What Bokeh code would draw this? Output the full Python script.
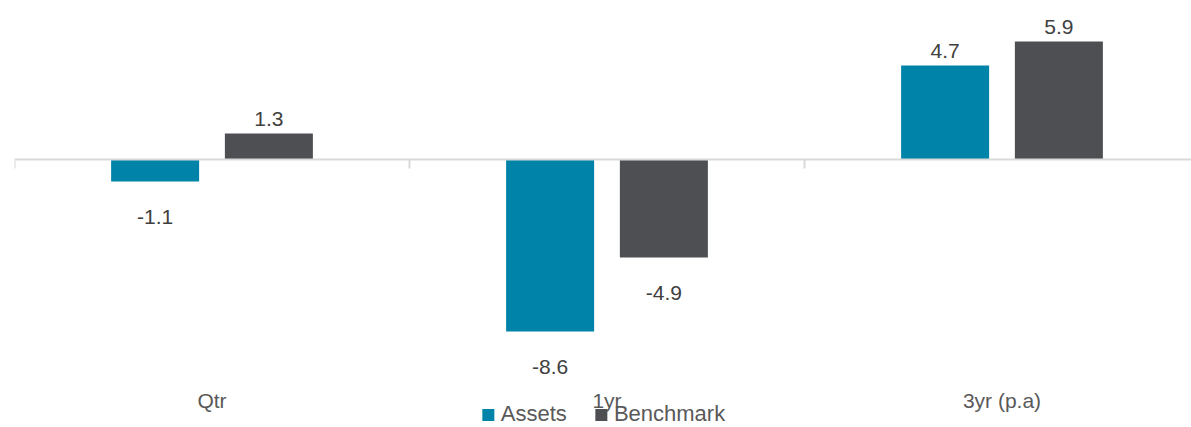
import numpy as np
from bokeh.plotting import figure
from bokeh.models import ColumnDataSource, Range1d, Span
from bokeh.core.properties import value
from bokeh.embed import file_html
from bokeh.resources import INLINE

# ---- data ----
categories = ["Qtr", "1yr", "3yr (p.a)"]
assets = [-1.1, -8.6, 4.7]
benchmark = [1.3, -4.9, 5.9]
series_names = ["Assets", "Benchmark"]
series_colors = ["#0083A9", "#4D4F53"]

FONT = value("Liberation Sans")
W, H = 1191, 427
BORDER_L = 14
PX_PER_CAT = 395.0
PX_PER_UNIT = 20.0
ZERO_PX = 159  # zero line from top of figure

frame_w = W - BORDER_L
x_end = frame_w / PX_PER_CAT
y_end = ZERO_PX / PX_PER_UNIT
y_start = -(H - ZERO_PX) / PX_PER_UNIT

p = figure(width=W, height=H, output_backend="svg", toolbar_location=None,
           x_range=Range1d(0, x_end), y_range=Range1d(y_start, y_end),
           x_axis_location=None, y_axis_location=None,
           min_border_left=BORDER_L, min_border_right=0,
           min_border_top=0, min_border_bottom=0)
p.outline_line_color = None
p.xgrid.visible = False
p.ygrid.visible = False
p.background_fill_color = "white"
p.border_fill_color = "white"

idx = np.arange(len(categories))
offset = 0.144
bar_w = 88 / PX_PER_CAT

for vals, name, color, off in zip([assets, benchmark], series_names, series_colors, [-offset, offset]):
    vals = np.array(vals)
    src = ColumnDataSource(dict(
        x=idx + 0.5 + off,
        top=vals,
        label=[f"{v:.1f}" for v in vals],
        yoff=np.where(vals >= 0, -15, 35.5),
    ))
    p.vbar(x="x", top="top", bottom=0, width=bar_w, source=src,
           fill_color=color, line_color=None, legend_label=name)
    p.text(x="x", y="top", text="label", source=src, y_offset="yoff",
           text_align="center", text_baseline="alphabetic",
           text_font=FONT, text_font_size=value("21px"), text_color="#404040")

# zero axis line and category boundary ticks
p.add_layout(Span(location=0, dimension="width", line_color="#D9D9D9", line_width=2))
bounds = np.arange(len(categories) + 1)
p.segment(x0=bounds, y0=np.zeros(len(bounds)), x1=bounds,
          y1=np.full(len(bounds), -9 / PX_PER_UNIT), line_color="#D9D9D9", line_width=2)

# category labels (placed below the plot area, relative to axis)
cat_src = ColumnDataSource(dict(x=idx + 0.5, y=np.zeros(len(idx)), text=categories))
p.text(x="x", y="y", text="text", source=cat_src, y_offset=241,
       text_align="center", text_baseline="alphabetic",
       text_font=FONT, text_font_size=value("21px"), text_color="#595959")

leg = p.legend[0]
leg.location = "bottom_center"
leg.orientation = "horizontal"
leg.background_fill_alpha = 0
leg.border_line_color = None
leg.margin = 0
leg.padding = 0
leg.spacing = 26
leg.glyph_width = 15
leg.glyph_height = 15
leg.label_standoff = 6
leg.label_text_font = "Liberation Sans"
leg.label_text_font_size = "22px"
leg.label_text_color = "#595959"

open("out.html", "w").write(file_html(p, INLINE))
